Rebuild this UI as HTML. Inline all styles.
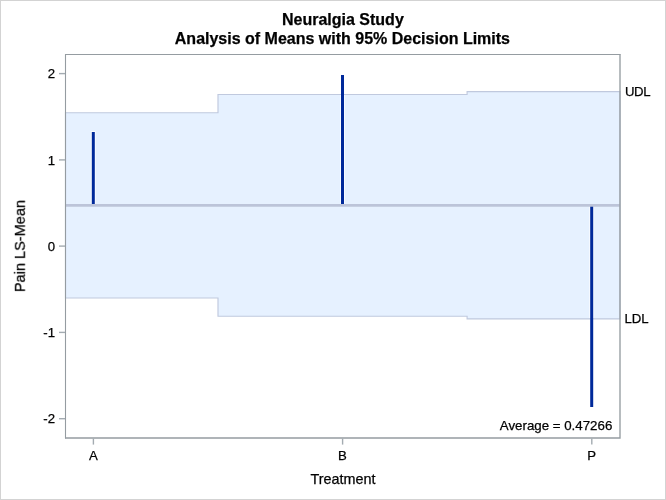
<!DOCTYPE html>
<html>
<head>
<meta charset="utf-8">
<title>Neuralgia Study</title>
<style>
html,body{margin:0;padding:0;background:#fff;}
body{width:666px;height:500px;overflow:hidden;position:relative;}
svg{display:block;position:absolute;left:0;top:0;}

text{font-family:"Liberation Sans",Arial,sans-serif;fill:#000;stroke:#000;stroke-width:0.25px;}
.t{font-size:16px;font-weight:bold;text-anchor:middle;}
.l{font-size:13.2px;}
.a{font-size:14.4px;text-anchor:middle;}
</style>
</head>
<body>
<svg width="666" height="500" viewBox="0 0 666 500">
<rect x="0" y="0" width="666" height="500" fill="#ffffff"/>
<rect x="0.5" y="0.5" width="665" height="499" fill="none" stroke="#d3d3d3" stroke-width="1"/>
<!-- decision limit band -->
<path d="M65.5 112.7 H218 V94.5 H467.1 V91.6 H620 V318.9 H467.1 V316.2 H218 V298 H65.5 Z" fill="#e6f1ff" stroke="#c0c9de" stroke-width="1.15"/>
<!-- needles -->
<g stroke="#ffffff" stroke-opacity="0.75" stroke-width="5">
<line x1="93.3" y1="131" x2="93.3" y2="205"/>
<line x1="342.5" y1="95" x2="342.5" y2="205"/>
<line x1="591.7" y1="205" x2="591.7" y2="318"/>
</g>
<line x1="93.3" y1="132" x2="93.3" y2="205" stroke="#00299a" stroke-width="3"/>
<line x1="342.5" y1="75" x2="342.5" y2="205" stroke="#00299a" stroke-width="3"/>
<line x1="591.7" y1="205" x2="591.7" y2="407" stroke="#00299a" stroke-width="3"/>
<!-- centre line -->
<line x1="65.5" y1="205.4" x2="620" y2="205.4" stroke="#bcc4d9" stroke-width="2.7"/>
<!-- frame -->
<g stroke="#959ca1" fill="none">
<path d="M65.5 438.6 V54.5 H620.3" stroke-width="1.08"/>
<path d="M620 54 V438 H65" stroke-width="1.35"/>
</g>
<!-- ticks -->
<g stroke="#a3abb1" stroke-width="1.4">
<line x1="59" y1="73.6" x2="65" y2="73.6"/>
<line x1="59" y1="159.9" x2="65" y2="159.9"/>
<line x1="59" y1="246.1" x2="65" y2="246.1"/>
<line x1="59" y1="332.4" x2="65" y2="332.4"/>
<line x1="59" y1="418.7" x2="65" y2="418.7"/>
<line x1="93.4" y1="438.5" x2="93.4" y2="444.6"/>
<line x1="342.6" y1="438.5" x2="342.6" y2="444.6"/>
<line x1="591.8" y1="438.5" x2="591.8" y2="444.6"/>
</g>
<g opacity="0.999">
<g class="l" text-anchor="end">
<text x="55" y="78.2">2</text>
<text x="55" y="164.5">1</text>
<text x="55" y="250.8">0</text>
<text x="55" y="337.1">-1</text>
<text x="55" y="423.4">-2</text>
</g>
<g class="l" text-anchor="middle">
<text x="93.3" y="459.8">A</text>
<text x="342.5" y="459.8">B</text>
<text x="591.7" y="459.8">P</text>
</g>
<text class="l" x="624.9" y="96.4" style="letter-spacing:-0.35px">UDL</text>
<text class="l" x="624.4" y="323.3">LDL</text>
<text class="l" x="612.3" y="430.3" style="font-size:13.3px" text-anchor="end">Average = 0.47266</text>
<text class="t" x="342.9" y="25.3">Neuralgia Study</text>
<text class="t" x="342.4" y="43.6">Analysis of Means with 95% Decision Limits</text>
<text class="a" x="343" y="484.3">Treatment</text>
<text class="a" style="font-size:14.55px" transform="translate(24.8,246.1) rotate(-90)">Pain LS-Mean</text>
</g>
</svg>
</body>
</html>
